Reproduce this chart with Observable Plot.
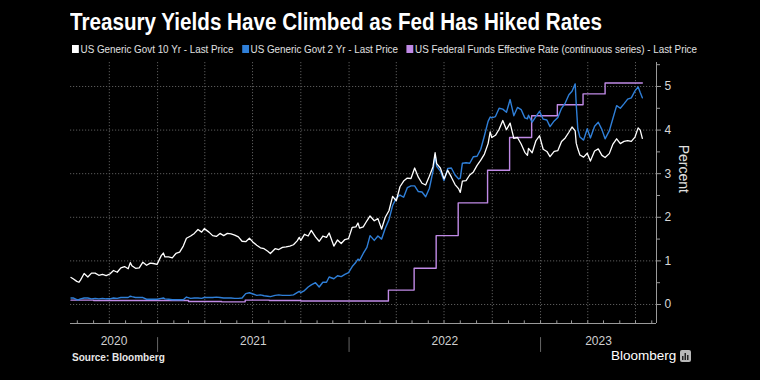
<!DOCTYPE html>
<html>
<head>
<meta charset="utf-8">
<script src="https://cdn.jsdelivr.net/npm/d3@7"></script>
<script src="https://cdn.jsdelivr.net/npm/@observablehq/plot@0.6"></script>
<style>
  html, body { margin: 0; padding: 0; background: #000; }
  body { width: 760px; height: 380px; overflow: hidden; position: relative; font-family: "Liberation Sans", sans-serif; }
  #title { position: absolute; left: 70px; top: 9px; color: #fff; font-weight: bold; font-size: 23px; white-space: nowrap; transform-origin: left top; }
  #legend { position: absolute; left: 72px; top: 43px; color: #e0e0e0; font-size: 11.5px; white-space: nowrap; display: flex; gap: 10px; transform-origin: left top; }
  #legend span.item { display: inline-flex; align-items: center; gap: 2px; }
  #legend i { display: inline-block; width: 8px; height: 8px; }
  #chart { position: absolute; left: 0; top: 58px; }
  #source { position: absolute; left: 72px; top: 352px; color: #e8e8e8; font-weight: bold; font-size: 10px; }
  #logo { position: absolute; left: 611px; top: 348px; color: #fff; font-size: 13.5px; display: flex; align-items: center; gap: 4px; }
</style>
</head>
<body>
<div id="title">Treasury Yields Have Climbed as Fed Has Hiked Rates</div>
<div id="legend"></div>
<div id="chart"></div>
<div id="source">Source: Bloomberg</div>
<div id="logo">Bloomberg<svg width="11" height="12" viewBox="0 0 11 12"><rect x="0" y="0" width="11" height="12" rx="2" fill="#b8b8b8"/><rect x="2" y="6" width="1.5" height="4" fill="#222"/><rect x="4.5" y="3" width="1.5" height="7" fill="#222"/><rect x="7" y="5" width="1.5" height="5" fill="#222"/></svg></div>
<script>
// ---------- DATA ----------
const seriesNames = [
  "US Generic Govt 10 Yr - Last Price",
  "US Generic Govt 2 Yr - Last Price",
  "US Federal Funds Effective Rate (continuous series) - Last Price"
];

const dates = [
  "2020-07-20","2020-07-24","2020-07-31","2020-08-04","2020-08-07","2020-08-14","2020-08-21","2020-08-28",
  "2020-09-04","2020-09-11","2020-09-18","2020-09-25","2020-10-02","2020-10-09","2020-10-16","2020-10-23",
  "2020-10-30","2020-11-06","2020-11-10","2020-11-13","2020-11-20","2020-11-27","2020-12-04","2020-12-11",
  "2020-12-18","2020-12-24","2020-12-31","2021-01-08","2021-01-12","2021-01-15","2021-01-22","2021-01-29",
  "2021-02-05","2021-02-12","2021-02-19","2021-02-25","2021-03-05","2021-03-12","2021-03-19","2021-03-26",
  "2021-03-31","2021-04-09","2021-04-16","2021-04-23","2021-04-30","2021-05-07","2021-05-14","2021-05-21",
  "2021-05-28","2021-06-04","2021-06-11","2021-06-18","2021-06-25","2021-07-02","2021-07-09","2021-07-16",
  "2021-07-23","2021-07-30","2021-08-04","2021-08-13","2021-08-20","2021-08-27","2021-09-03","2021-09-10",
  "2021-09-17","2021-09-24","2021-09-28","2021-10-01","2021-10-08","2021-10-15","2021-10-21","2021-10-29",
  "2021-11-05","2021-11-12","2021-11-19","2021-11-24","2021-12-03","2021-12-10","2021-12-17","2021-12-24",
  "2021-12-31","2022-01-07","2022-01-14","2022-01-18","2022-01-21","2022-01-28","2022-02-04","2022-02-10",
  "2022-02-18","2022-02-25","2022-03-04","2022-03-11","2022-03-18","2022-03-25","2022-04-01","2022-04-08",
  "2022-04-15","2022-04-22","2022-04-29","2022-05-06","2022-05-13","2022-05-20","2022-05-27","2022-06-03",
  "2022-06-10","2022-06-14","2022-06-17","2022-06-24","2022-07-01","2022-07-08","2022-07-15","2022-07-22",
  "2022-07-29","2022-08-01","2022-08-05","2022-08-12","2022-08-19","2022-08-26","2022-09-02","2022-09-09",
  "2022-09-16","2022-09-23","2022-09-27","2022-09-30","2022-10-07","2022-10-14","2022-10-21","2022-10-28",
  "2022-11-04","2022-11-11","2022-11-18","2022-11-25","2022-12-02","2022-12-07","2022-12-09","2022-12-16",
  "2022-12-23","2022-12-30","2023-01-06","2023-01-13","2023-01-19","2023-01-27","2023-02-03","2023-02-10",
  "2023-02-17","2023-02-24","2023-03-02","2023-03-08","2023-03-10","2023-03-13","2023-03-17","2023-03-24",
  "2023-03-31","2023-04-06","2023-04-14","2023-04-21","2023-04-28","2023-05-04","2023-05-12","2023-05-19",
  "2023-05-26","2023-06-02","2023-06-09","2023-06-16","2023-06-23","2023-06-30","2023-07-06","2023-07-10",
  "2023-07-14"
];

const govt10 = [
  0.62,0.59,0.53,0.51,0.56,0.71,0.63,0.72,
  0.72,0.67,0.69,0.66,0.70,0.78,0.74,0.84,
  0.87,0.82,0.96,0.89,0.83,0.84,0.97,0.90,
  0.95,0.94,0.92,1.12,1.18,1.09,1.09,1.07,
  1.17,1.20,1.34,1.52,1.57,1.63,1.72,1.66,
  1.74,1.66,1.58,1.56,1.63,1.58,1.63,1.62,
  1.59,1.55,1.45,1.44,1.52,1.43,1.36,1.30,
  1.28,1.22,1.17,1.28,1.26,1.31,1.32,1.34,
  1.37,1.46,1.54,1.47,1.61,1.57,1.70,1.55,
  1.45,1.57,1.54,1.64,1.34,1.48,1.40,1.49,
  1.51,1.77,1.78,1.87,1.75,1.78,1.92,2.03,
  1.92,1.97,1.73,2.00,2.15,2.48,2.38,2.70,
  2.83,2.90,2.89,3.13,2.92,2.78,2.74,2.94,
  3.16,3.48,3.23,3.13,2.88,3.08,2.92,2.75,
  2.65,2.57,2.83,2.84,2.97,3.04,3.19,3.31,
  3.45,3.69,3.96,3.83,3.88,4.02,4.22,4.01,
  4.16,3.81,3.83,3.68,3.49,3.42,3.58,3.48,
  3.75,3.87,3.56,3.51,3.39,3.51,3.53,3.74,
  3.82,3.95,4.07,3.98,3.70,3.57,3.43,3.38,
  3.47,3.29,3.52,3.57,3.42,3.37,3.46,3.68,
  3.80,3.69,3.74,3.76,3.74,3.84,4.05,4.00,
  3.81
];

const govt2 = [
  0.15,0.15,0.11,0.11,0.13,0.15,0.15,0.13,
  0.14,0.13,0.14,0.13,0.13,0.15,0.14,0.16,
  0.16,0.16,0.19,0.18,0.16,0.16,0.16,0.12,
  0.12,0.12,0.12,0.14,0.15,0.13,0.12,0.11,
  0.11,0.11,0.11,0.17,0.14,0.15,0.15,0.14,
  0.16,0.16,0.16,0.17,0.16,0.15,0.15,0.15,
  0.14,0.14,0.15,0.25,0.27,0.24,0.21,0.22,
  0.20,0.19,0.18,0.21,0.22,0.21,0.21,0.21,
  0.22,0.27,0.30,0.27,0.32,0.40,0.45,0.50,
  0.40,0.51,0.51,0.63,0.59,0.66,0.64,0.69,
  0.73,0.87,0.97,1.04,1.01,1.17,1.31,1.58,
  1.47,1.57,1.50,1.75,1.94,2.27,2.44,2.51,
  2.46,2.68,2.72,2.72,2.59,2.58,2.47,2.66,
  3.06,3.43,3.17,3.06,2.84,3.12,3.13,2.97,
  2.88,2.90,3.24,3.25,3.24,3.39,3.40,3.56,
  3.87,4.20,4.30,4.28,4.31,4.50,4.48,4.41,
  4.70,4.33,4.52,4.47,4.28,4.26,4.34,4.18,
  4.31,4.43,4.25,4.23,4.08,4.21,4.29,4.50,
  4.62,4.81,4.89,5.06,4.59,4.03,3.84,3.77,
  4.03,3.82,4.09,4.18,4.01,3.80,3.98,4.27,
  4.56,4.50,4.60,4.71,4.74,4.90,4.99,4.86,
  4.74
];

const ffDates = [
  "2020-07-20","2020-09-01","2021-03-01","2021-05-03","2021-06-17","2021-08-02","2021-10-01",
  "2022-03-17","2022-05-05","2022-06-16","2022-07-28","2022-09-22","2022-11-03","2022-12-15",
  "2023-02-02","2023-03-23","2023-05-04","2023-07-14"
];
const ffRates = [
  0.10,0.09,0.07,0.06,0.10,0.09,0.08,
  0.33,0.83,1.58,2.33,3.08,3.83,4.33,
  4.58,4.83,5.08,5.08
];

const yTickValues = [0, 1, 2, 3, 4, 5];
const yMinorValues = [0.5, 1.5, 2.5, 3.5, 4.5, 5.5];
const yearLabels = ["2020", "2021", "2022", "2023"];

// ---------- BUILD ----------
const colors = ["#ffffff", "#2f7fd8", "#c08ae6"];

const legend = document.getElementById("legend");
seriesNames.forEach((name, i) => {
  const s = document.createElement("span");
  s.className = "item";
  s.innerHTML = `<i style="background:${colors[i]}"></i>${name}`;
  legend.appendChild(s);
});

function fitWidth(el, target) {
  const w = el.getBoundingClientRect().width;
  if (w > 0) el.style.transform = `scaleX(${target / w})`;
}
fitWidth(document.getElementById("title"), 532);
fitWidth(legend, 625);

const parse = d3.utcParse("%Y-%m-%d");
const yieldRows = dates.map((d, i) => ({date: parse(d), v10: govt10[i], v2: govt2[i]}));
const ffRows = ffDates.map((d, i) => ({date: parse(d), v: ffRates[i]}));

const xStart = parse("2020-07-19");
const xEnd = parse("2023-08-10");
const yMin = -0.436, yMax = 5.55;

const yearStarts = [parse("2021-01-01"), parse("2022-01-01"), parse("2023-01-01")];
const bounds = [xStart, ...yearStarts, xEnd];
const yearRows = yearLabels.map((label, i) => ({label, date: new Date((+bounds[i] + +bounds[i + 1]) / 2)}));
const quarterLines = d3.utcMonth.every(3).range(parse("2020-10-01"), xEnd);
const monthTicks = d3.utcMonth.range(parse("2020-08-01"), xEnd);

const grid = {stroke: "#5a5a5a", strokeDasharray: "1.2,1.8", strokeWidth: 1};

const chart = Plot.plot({
  width: 760,
  height: 300,
  marginLeft: 70,
  marginRight: 104,
  marginTop: 4,
  marginBottom: 35,
  style: {background: "transparent", color: "#d0d0d0", fontSize: "12px", fontFamily: "'Liberation Sans', sans-serif"},
  x: {type: "utc", domain: [xStart, xEnd], axis: null},
  y: {domain: [yMin, yMax], axis: null},
  marks: [
    Plot.ruleY(yTickValues, grid),
    Plot.ruleX(quarterLines, grid),
    Plot.ruleY([yMin], {stroke: "#9a9a9a"}),
    Plot.ruleX([xEnd], {stroke: "#9a9a9a"}),
    Plot.ruleX(monthTicks, {y1: yMin, y2: yMin + 0.06, stroke: "#9a9a9a"}),
    Plot.ruleX(yearStarts, {y1: -0.76, y2: -1.1, stroke: "#666"}),
    Plot.text(yearRows, {x: "date", text: "label", frameAnchor: "bottom", dy: 21, fill: "#d0d0d0", fontSize: 12}),
    Plot.axisY(yMinorValues, {anchor: "right", tickSize: 3, tickFormat: () => "", stroke: "#9a9a9a"}),
    Plot.axisY(yTickValues, {anchor: "right", tickSize: 4, tickPadding: 4, label: null, fill: "#d8d8d8", stroke: "#9a9a9a", fontSize: 12}),
    Plot.text(["Percent"], {frameAnchor: "right", dx: 27, rotate: 90, fill: "#e0e0e0", fontSize: 14}),
    Plot.line(ffRows, {x: "date", y: "v", curve: "step-after", stroke: colors[2], strokeWidth: 1.4}),
    Plot.line(yieldRows, {x: "date", y: "v2", stroke: colors[1], strokeWidth: 1.4}),
    Plot.line(yieldRows, {x: "date", y: "v10", stroke: colors[0], strokeWidth: 1.3})
  ]
});
document.getElementById("chart").appendChild(chart);
</script>
</body>
</html>
